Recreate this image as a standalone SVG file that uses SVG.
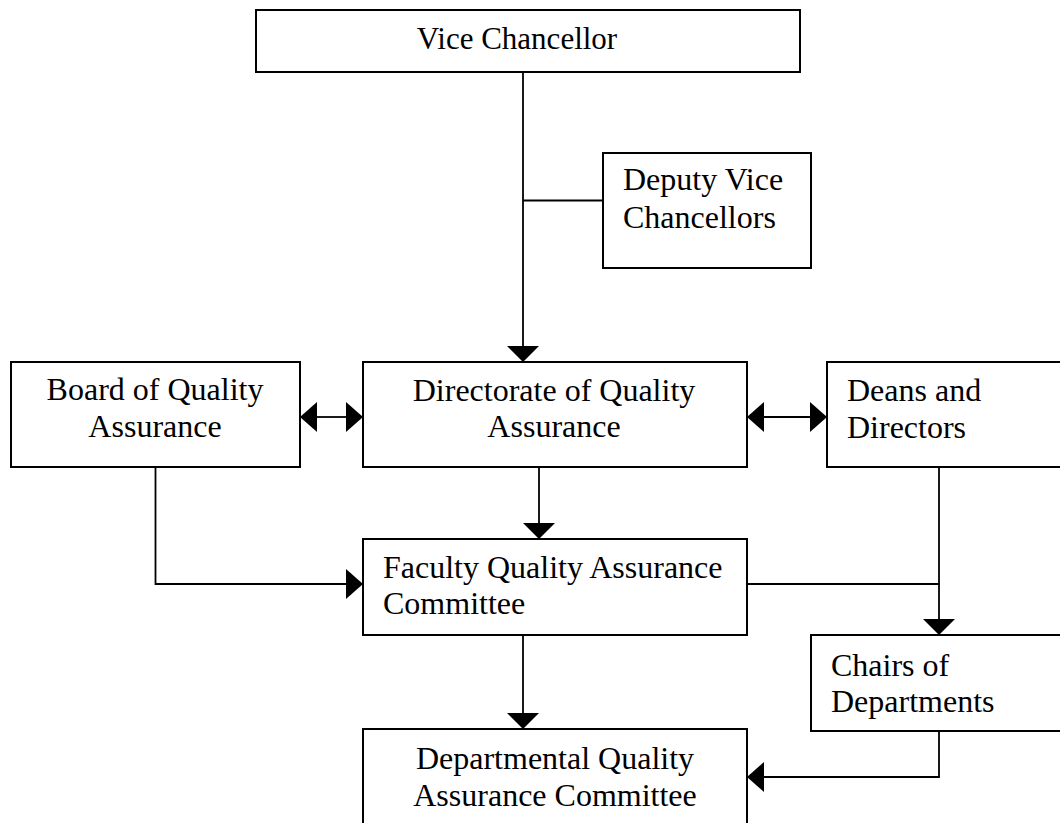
<svg xmlns="http://www.w3.org/2000/svg" width="1060" height="823" viewBox="0 0 1060 823">
<style>
.box{fill:#fff;stroke:#000;stroke-width:2}
.t{font-family:"Liberation Serif","Times New Roman",serif;font-size:32px;fill:#000}
.vc{font-size:31px}
.c{text-anchor:middle}
.ln{fill:none;stroke:#000;stroke-width:1.8}
.ah{fill:#000;stroke:none}
</style>
<rect width="1060" height="823" fill="#fff"/>
<g id="connectors">
<path class="ln" d="M523,72 V348"/>
<path class="ln" d="M523,200.5 H603"/>
<path class="ln" d="M316,417 H347"/>
<path class="ln" d="M763,417 H811"/>
<path class="ln" d="M539,467 V524"/>
<path class="ln" d="M155.5,467 V584 H347"/>
<path class="ln" d="M747,584 H939"/>
<path class="ln" d="M939,467 V620"/>
<path class="ln" d="M523,635 V714"/>
<path class="ln" d="M939,731 V777 H763"/>
<polygon class="ah" points="507,346 539,346 523,362"/>
<polygon class="ah" points="523,523 555,523 539,539"/>
<polygon class="ah" points="923,619 955,619 939,635"/>
<polygon class="ah" points="507,713 539,713 523,729"/>
<polygon class="ah" points="346,569 346,599 363,584"/>
<polygon class="ah" points="346,402 346,432 363,417"/>
<polygon class="ah" points="810,402 810,432 827,417"/>
<polygon class="ah" points="317,402 317,432 300,417"/>
<polygon class="ah" points="764,402 764,432 747,417"/>
<polygon class="ah" points="764,762 764,792 747,777"/>
</g>
<g id="vice-chancellor">
<rect class="box" x="256" y="10" width="544" height="62"/>
<text class="t vc c" x="517" y="49">Vice Chancellor</text>
</g>
<g id="deputy-vice-chancellors">
<rect class="box" x="603" y="153" width="208" height="115"/>
<text class="t" x="623" y="190">Deputy Vice</text>
<text class="t" x="623" y="228">Chancellors</text>
</g>
<g id="board-quality-assurance">
<rect class="box" x="11" y="362" width="289" height="105"/>
<text class="t c" x="155" y="400">Board of Quality</text>
<text class="t c" x="155" y="437">Assurance</text>
</g>
<g id="directorate-quality-assurance">
<rect class="box" x="363" y="362" width="384" height="105"/>
<text class="t c" x="554" y="401">Directorate of Quality</text>
<text class="t c" x="554" y="437">Assurance</text>
</g>
<g id="deans-directors">
<rect class="box" x="827" y="362" width="240" height="105"/>
<text class="t" x="847" y="401">Deans and</text>
<text class="t" x="847" y="438">Directors</text>
</g>
<g id="faculty-qa-committee">
<rect class="box" x="363" y="539" width="384" height="96"/>
<text class="t" x="383" y="578">Faculty Quality Assurance</text>
<text class="t" x="383" y="614">Committee</text>
</g>
<g id="chairs-departments">
<rect class="box" x="811" y="635" width="256" height="96"/>
<text class="t" x="831" y="676">Chairs of</text>
<text class="t" x="831" y="712">Departments</text>
</g>
<g id="departmental-qa-committee">
<rect class="box" x="363" y="729" width="384" height="104"/>
<text class="t c" x="555" y="769">Departmental Quality</text>
<text class="t c" x="555" y="806">Assurance Committee</text>
</g>
</svg>
